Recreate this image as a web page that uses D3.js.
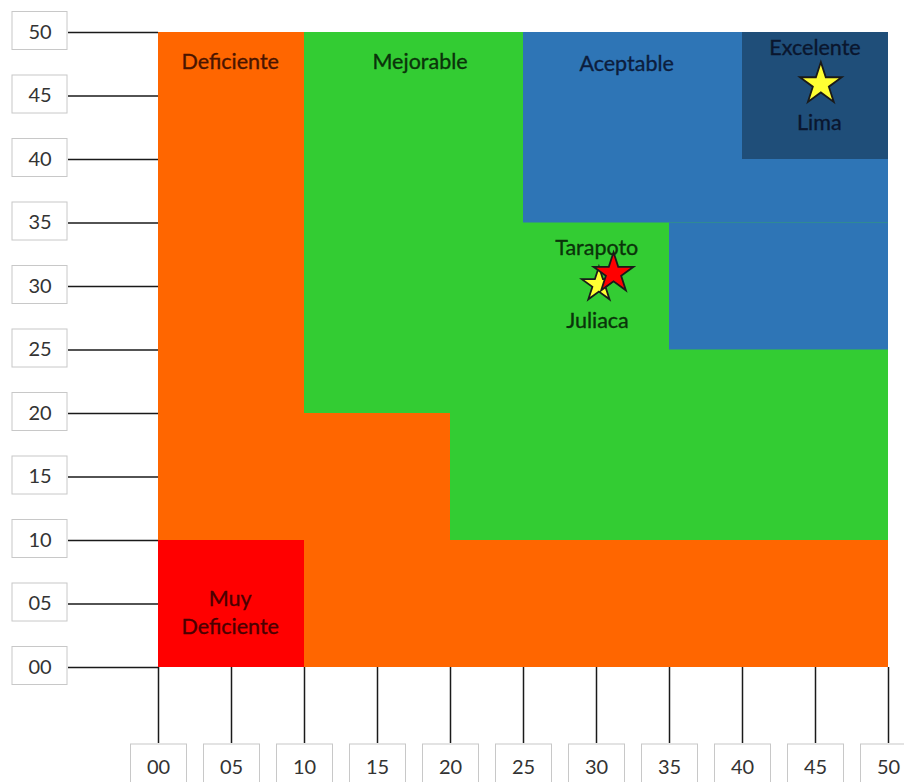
<!DOCTYPE html>
<html>
<head>
<meta charset="utf-8">
<script src="https://cdn.jsdelivr.net/npm/d3@7"></script>
<style>
  html, body { margin: 0; padding: 0; background: #ffffff; }
  svg { display: block; }
</style>
</head>
<body>
<svg id="chart" width="904" height="782"></svg>
<script>
// ---- data ----
const xTicks = [0, 5, 10, 15, 20, 25, 30, 35, 40, 45, 50];
const yTicks = [0, 5, 10, 15, 20, 25, 30, 35, 40, 45, 50];

// zones drawn in order (later ones on top): [x0, x1, y0, y1, zone]
const zoneRects = [
  [0, 50, 0, 50, "Deficiente"],
  [10, 50, 20, 50, "Mejorable"],
  [20, 50, 10, 20, "Mejorable"],
  [25, 50, 35, 50, "Aceptable"],
  [35, 50, 25, 35, "Aceptable"],
  [40, 50, 40, 50, "Excelente"],
  [0, 10, 0, 10, "Muy Deficiente"]
];
const zoneNames  = ["Muy Deficiente", "Deficiente", "Mejorable", "Aceptable", "Excelente"];
const zoneColors = ["#ff0000", "#ff6600", "#33cc33", "#2e75b6", "#1f4e79"];
const zoneText   = ["#4a0000", "#4a1500", "#0a330a", "#0c1d3d", "#0a162e"];

// zone labels: [text, x, y, zone]
const zoneLabels = [
  ["Deficiente", 4.95, 47.7, "Deficiente"],
  ["Mejorable", 17.95, 47.7, "Mejorable"],
  ["Aceptable", 32.1, 47.5, "Aceptable"],
  ["Excelente", 45.0, 48.8, "Excelente"],
  ["Muy", 4.95, 5.4, "Muy Deficiente"],
  ["Deficiente", 4.95, 3.2, "Muy Deficiente"]
];

// cities: name, x, y, star colour
const cityNames  = ["Juliaca", "Tarapoto", "Lima"];
const cityX      = [30.2, 31.2, 45.4];
const cityY      = [30.1, 31.0, 45.9];
const cityColors = ["#ffff33", "#ff0000", "#ffff33"];
// city labels: [text, x, y, zone]
const cityLabels = [
  ["Tarapoto", 30.05, 33.0, "Mejorable"],
  ["Juliaca", 30.1, 27.3, "Mejorable"],
  ["Lima", 45.3, 42.9, "Excelente"]
];

// ---- drawing ----
const svg = d3.select("#chart");
const x = d3.scaleLinear().domain([0, 50]).range([158, 888]);
const y = d3.scaleLinear().domain([0, 50]).range([667, 32]);
const fill = d3.scaleOrdinal().domain(zoneNames).range(zoneColors);
const ink  = d3.scaleOrdinal().domain(zoneNames).range(zoneText);
const FONT = "Lato, 'Open Sans', sans-serif";

svg.append("g").selectAll("rect").data(zoneRects).join("rect")
  .attr("x", d => x(d[0]))
  .attr("y", d => y(d[3]))
  .attr("width", d => x(d[1]) - x(d[0]))
  .attr("height", d => y(d[2]) - y(d[3]))
  .attr("fill", d => fill(d[4]));

svg.append("g").selectAll("text").data(zoneLabels).join("text")
  .attr("x", d => x(d[1]))
  .attr("y", d => y(d[2]))
  .attr("dy", "0.35em")
  .attr("text-anchor", "middle")
  .attr("font-family", FONT)
  .attr("font-size", 21.5)
  .attr("fill", d => ink(d[3]))
  .attr("stroke", d => ink(d[3]))
  .attr("stroke-width", 0.35)
  .text(d => d[0]);

svg.append("g").selectAll("text").data(cityLabels).join("text")
  .attr("x", d => x(d[1]))
  .attr("y", d => y(d[2]))
  .attr("dy", "0.35em")
  .attr("text-anchor", "middle")
  .attr("font-family", FONT)
  .attr("font-size", 21.5)
  .attr("fill", d => ink(d[3]))
  .attr("stroke", d => ink(d[3]))
  .attr("stroke-width", 0.35)
  .text(d => d[0]);

// stars
const starSizes = [18, 21, 22];
const ka = 0.8908130915292852;
svg.append("g").selectAll("path").data(cityNames).join("path")
  .attr("transform", (d, i) => `translate(${x(cityX[i])},${y(cityY[i])})`)
  .attr("d", (d, i) => d3.symbol(d3.symbolStar, starSizes[i] * starSizes[i] / ka)())
  .attr("fill", (d, i) => cityColors[i])
  .attr("stroke", "#1a1a1a")
  .attr("stroke-width", 1.8)
  .attr("stroke-linejoin", "miter");

// y axis
const yAxis = d3.axisLeft(y).tickValues(yTicks).tickSize(90).tickPadding(0)
  .tickFormat(d3.format("02d"));
const gy = svg.append("g").attr("transform", `translate(${x(0)},0)`).call(yAxis);
gy.select(".domain").remove();
gy.selectAll(".tick line").attr("stroke", "#1a1a1a").attr("stroke-width", 1.5);
gy.selectAll(".tick").insert("rect", "text")
  .attr("x", -146).attr("y", -21).attr("width", 55).attr("height", 38)
  .attr("fill", "#ffffff").attr("stroke", "#c8c8c8").attr("stroke-width", 1);
gy.selectAll(".tick text")
  .attr("x", -118).attr("dy", "0.35em").attr("y", -1)
  .attr("text-anchor", "middle")
  .attr("font-family", FONT).attr("font-size", 20).attr("fill", "#333333");

// x axis
const xAxis = d3.axisBottom(x).tickValues(xTicks).tickSize(76).tickPadding(0)
  .tickFormat(d3.format("02d"));
const gx = svg.append("g").attr("transform", `translate(0,${y(0)})`).call(xAxis);
gx.select(".domain").remove();
gx.selectAll(".tick line").attr("stroke", "#1a1a1a").attr("stroke-width", 1.5);
gx.selectAll(".tick").insert("rect", "text")
  .attr("x", -28).attr("y", 77).attr("width", 56).attr("height", 44)
  .attr("fill", "#ffffff").attr("stroke", "#c8c8c8").attr("stroke-width", 1);
gx.selectAll(".tick text")
  .attr("y", 100).attr("dy", "0.35em")
  .attr("text-anchor", "middle")
  .attr("font-family", FONT).attr("font-size", 20).attr("fill", "#333333");
</script>
</body>
</html>
